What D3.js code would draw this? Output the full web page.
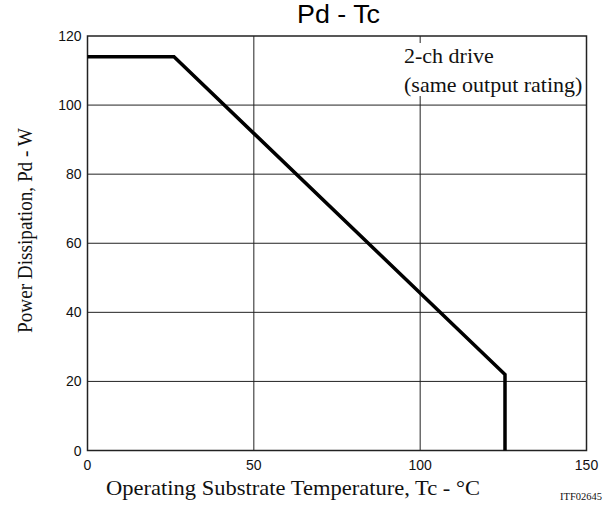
<!DOCTYPE html>
<html><head><meta charset="utf-8">
<script src="https://cdn.jsdelivr.net/npm/d3@7"></script>
<style>body{margin:0;background:#fff}</style>
</head><body>
<svg id="c" width="616" height="510"></svg>
<script>
const tc = [0, 26, 125.5, 125.5];
const pd = [114, 114, 22, 0];
const xTicks = [0, 50, 100, 150];
const yTicks = [0, 20, 40, 60, 80, 100, 120];
const title = "Pd - Tc";
const xLabel = "Operating Substrate Temperature, Tc - °C";
const yLabel = "Power Dissipation, Pd - W";
const note = ["2-ch drive", "(same output rating)"];
const code = "ITF02645";

const svg = d3.select("#c");
const L = 87.5, R = 586.5, T = 36, B = 450.5;
const x = d3.scaleLinear().domain([0,150]).range([L,R]);
const y = d3.scaleLinear().domain([0,120]).range([B,T]);
const sans = "Liberation Sans, Arial, sans-serif";
const serif = "Liberation Serif, Times New Roman, serif";

// grid
svg.append("g").selectAll("line").data(yTicks.slice(1,-1)).join("line")
  .attr("x1",L).attr("x2",R).attr("y1",d=>y(d)).attr("y2",d=>y(d))
  .attr("stroke","#222").attr("stroke-width",1);
svg.append("g").selectAll("line").data(xTicks.slice(1,-1)).join("line")
  .attr("x1",d=>x(d)).attr("x2",d=>x(d)).attr("y1",T).attr("y2",B)
  .attr("stroke","#222").attr("stroke-width",1);

// note background
svg.append("rect").attr("x",398).attr("y",43).attr("width",R-398-1).attr("height",53).attr("fill","#fff");
svg.append("g").selectAll("text").data(note).join("text")
  .attr("x",404).attr("y",(d,i)=>63+i*28.5)
  .attr("font-family",serif).attr("font-size",22).attr("fill","#111").text(d=>d);

// frame
svg.append("rect").attr("x",L).attr("y",T).attr("width",R-L).attr("height",B-T)
  .attr("fill","none").attr("stroke","#222").attr("stroke-width",1.5);

// curve
const pts = tc.map((d,i)=>[d,pd[i]]);
svg.append("path").datum(pts)
  .attr("d", d3.line().x(d=>x(d[0])).y(d=>y(d[1])))
  .attr("fill","none").attr("stroke","#000").attr("stroke-width",3.5).attr("stroke-linejoin","miter");

// tick labels
svg.append("g").selectAll("text").data(yTicks).join("text")
  .attr("x",L-6).attr("y",d=>y(d)+5).attr("text-anchor","end")
  .attr("font-family",sans).attr("font-size",14).attr("fill","#111").text(d=>d);
svg.append("g").selectAll("text").data(xTicks).join("text")
  .attr("x",d=>x(d)).attr("y",B+19.5).attr("text-anchor","middle")
  .attr("font-family",sans).attr("font-size",14).attr("fill","#111").text(d=>d);

// titles
svg.append("text").attr("x",297).attr("y",23)
  .attr("textLength",83).attr("lengthAdjust","spacingAndGlyphs")
  .attr("font-family",sans).attr("font-size",25).attr("fill","#000").text(title);
svg.append("text").attr("x",106).attr("y",495)
  .attr("textLength",374).attr("lengthAdjust","spacingAndGlyphs")
  .attr("font-family",serif).attr("font-size",22).attr("fill","#111").text(xLabel);
svg.append("text").attr("transform",`translate(32,333) rotate(-90)`)
  .attr("textLength",205).attr("lengthAdjust","spacingAndGlyphs")
  .attr("font-family",serif).attr("font-size",21).attr("fill","#111").text(yLabel);
svg.append("text").attr("x",602).attr("y",500).attr("text-anchor","end")
  .attr("font-family",serif).attr("font-size",10.5).attr("fill","#111").text(code);
</script>
</body></html>
